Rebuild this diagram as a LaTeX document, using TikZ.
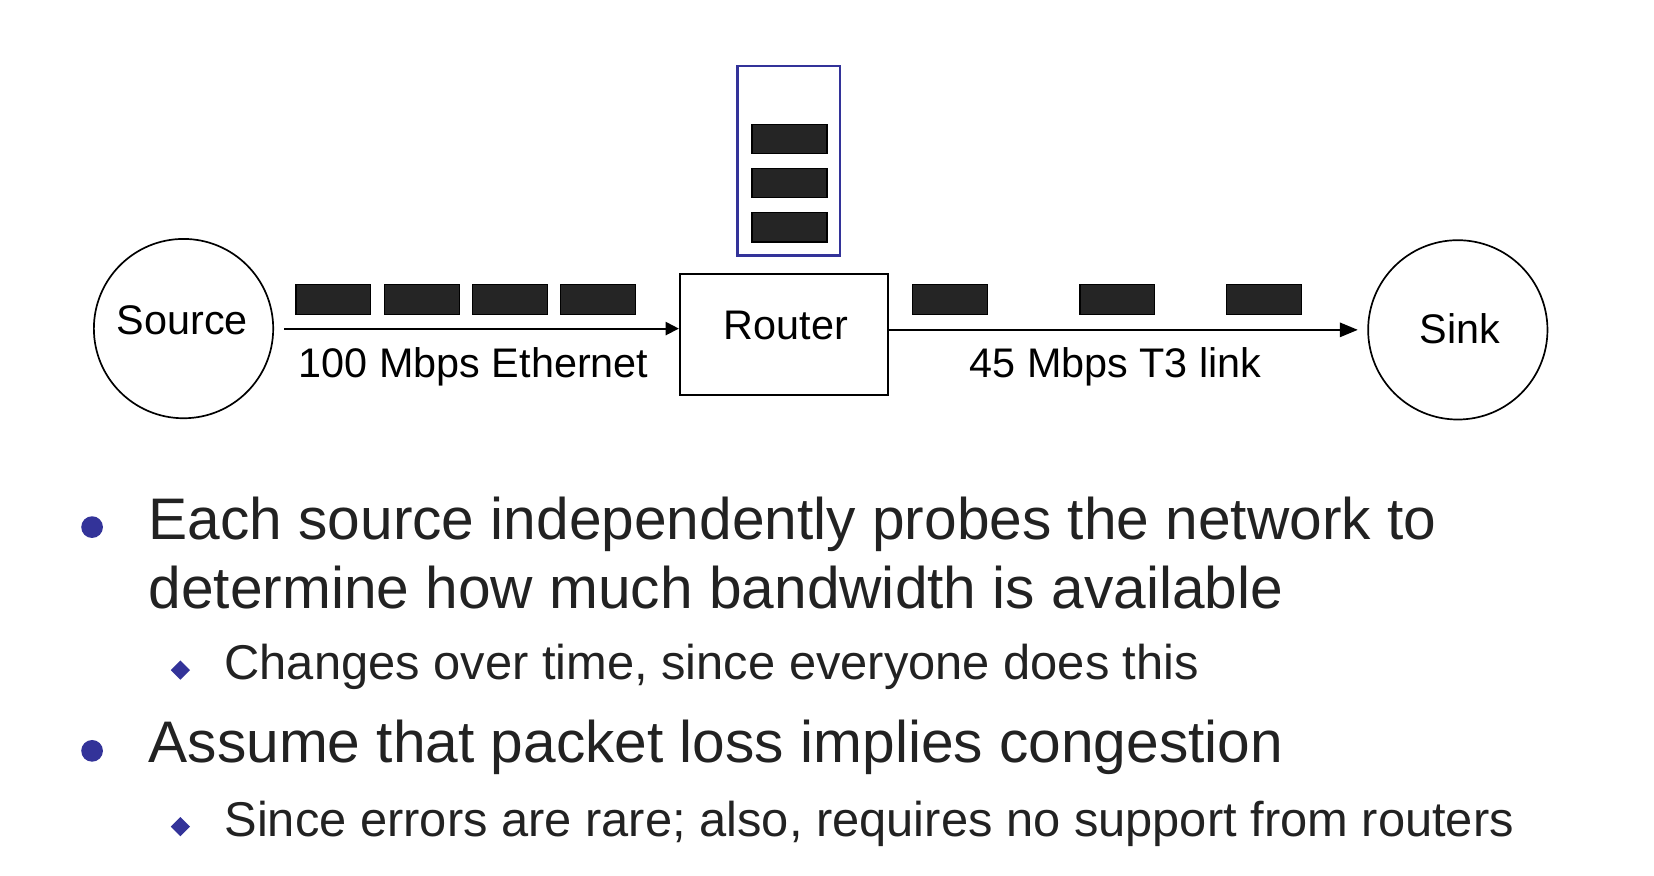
\documentclass[tikz,border=0pt]{standalone}
\usepackage{fontspec}
\setmainfont{Liberation Sans}
\usepackage{tikz}
\usetikzlibrary{arrows.meta}
\usetikzlibrary{shapes.geometric}
\definecolor{queueblue}{RGB}{51,51,153}
\definecolor{pktgray}{RGB}{37,37,37}
\definecolor{txtgray}{RGB}{34,34,34}
\newcommand{\boxfont}{\fontsize{39.2}{47}\selectfont}
\newcommand{\itemfont}{\fontsize{55.6}{66}\selectfont}
\newcommand{\subitemfont}{\fontsize{46.3}{55}\selectfont}
\tikzset{every picture/.style={line width=1.8pt}}
\tikzset{
  station/.style={circle, draw, line width=1.6pt, minimum size=170pt, inner sep=0pt},
  packet/.style={rectangle, draw, fill=pktgray, line width=1.2pt, minimum width=71pt, minimum height=28pt, inner sep=0pt},
  boxtext/.style={anchor=base, inner sep=0pt, font=\boxfont},
  item/.style={anchor=base west, inner sep=0pt, text=txtgray, font=\itemfont},
  subitem/.style={anchor=base west, inner sep=0pt, text=txtgray, font=\subitemfont},
  dot/.style={circle, fill=queueblue, minimum size=20.6pt, inner sep=0pt},
  lozenge/.style={diamond, fill=queueblue, minimum size=19pt, inner sep=0pt}
}

\begin{document}
\begin{tikzpicture}[x=1pt,y=-1pt]
\useasboundingbox (0,0) rectangle (1568,830.3);
\node[station] (src) at (174,311.5) {};
\node[boxtext] (srctext) at (173,317.5) {Source};
\node[station] (sink) at (1382,312.7) {};
\node[boxtext] (sinktext) at (1384,325.4) {Sink};
\node[draw, minimum width=197.5pt, minimum height=114.7pt] (router) at (743.2,317) {};
\node[boxtext] (routertext) at (745,321.6) {Router};
\node[draw=queueblue, line width=2.2pt, minimum width=97pt, minimum height=180pt] (queue) at (747.5,152.3) {};
%
\node[packet] (b1) at (748.5,131.7) {};
\node[packet] (b2) at (748.5,173.4) {};
\node[packet] (b3) at (748.5,215.4) {};
%
\node[packet] (p1) at (316,283.8) {};
\node[packet] (p2) at (399.9,283.8) {};
\node[packet] (p3) at (483.3,283.8) {};
\node[packet] (p4) at (567,283.8) {};
%
\node[packet] (q1) at (900.8,283.8) {};
\node[packet] (q2) at (1059.3,283.8) {};
\node[packet] (q3) at (1198,283.8) {};
%
\draw [-{Triangle[length=12.6pt,width=12.6pt]}, shorten <=9.6pt] (src.east) -- (src.east -| router.west);
\draw [-{Triangle[length=17pt,width=13.6pt]}, shorten >=9pt] (router.east |- sink.west) -- (sink.west);
\node[boxtext] (eth) at (449,358) {100 Mbps Ethernet};
\node[boxtext] (t3) at (1057.5,358) {45 Mbps T3 link};
%
\node[dot] (d1) at (87.3,499.7) {};
\node[item] (l1) at (140,511) {Each source independently probes the network to};
\node[item] (l2) at (140,576.5) {determine how much bandwidth is available};
\node[lozenge] (z1) at (171,635.2) {};
\node[subitem] (l3) at (212,644.5) {Changes over time, since everyone does this};
\node[dot] (d2) at (87.3,711.8) {};
\node[item] (l4) at (140,722.6) {Assume that packet loss implies congestion};
\node[lozenge] (z2) at (171,783.7) {};
\node[subitem] (l5) at (212,793) {Since errors are rare; also, requires no support from routers};
\end{tikzpicture}
\end{document}
